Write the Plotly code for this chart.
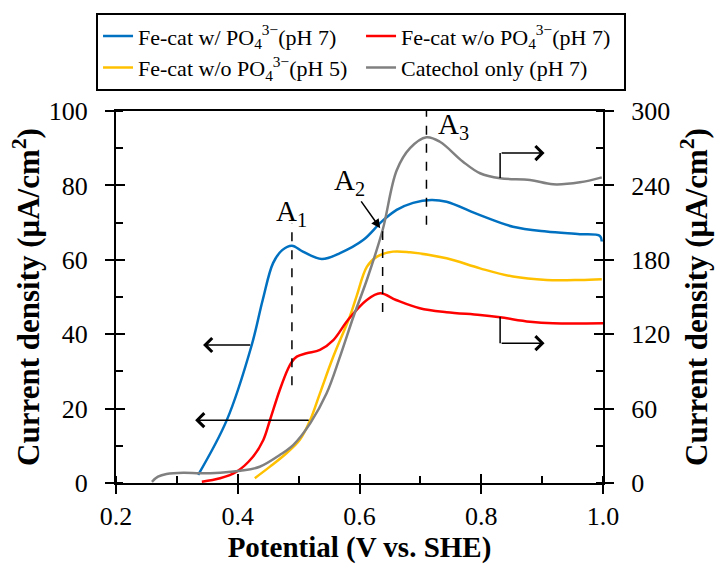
import plotly.graph_objects as go

# ---------------- data ----------------
blue_v = [0.335, 0.382, 0.423, 0.441, 0.458, 0.473, 0.489, 0.507, 0.538, 0.568, 0.606, 0.636,
          0.661, 0.688, 0.718, 0.743, 0.798, 0.852, 0.907, 0.962, 0.995, 0.998]
blue_i = [2.2, 16.9, 37.1, 49.2, 59.1, 62.6, 63.8, 62.2, 60.2, 61.8, 65.3, 70.2,
          73.4, 75.3, 76.1, 75.6, 72.0, 68.9, 67.6, 66.9, 66.4, 64.9]

red_v = [0.341, 0.371, 0.398, 0.425, 0.442, 0.453, 0.469, 0.483, 0.489, 0.497, 0.513, 0.535,
         0.557, 0.581, 0.612, 0.634, 0.660, 0.699, 0.743, 0.798, 0.831, 0.880, 0.918, 1.0]
red_i = [1.0, 3.8, 9.1, 21.2, 34.7, 50.8, 75.0, 92.5, 97.8, 101.9, 104.6, 107.3,
         115.3, 131.5, 147.6, 153.0, 147.6, 140.9, 137.7, 135.5, 133.6, 130.1, 128.8, 128.8]

yellow_v = [0.428, 0.453, 0.480, 0.502, 0.519, 0.535, 0.557, 0.584, 0.595, 0.612, 0.628, 0.655,
            0.683, 0.743, 0.798, 0.852, 0.907, 0.962, 0.998]
yellow_i = [1.3, 4.4, 8.0, 11.6, 16.9, 24.1, 34.0, 44.7, 50.1, 58.1, 60.8, 62.2,
            62.0, 60.4, 57.7, 55.5, 54.6, 54.6, 54.8]

gray_v = [0.259, 0.269, 0.283, 0.311, 0.338, 0.371, 0.404, 0.436, 0.469, 0.491, 0.519, 0.546,
          0.568, 0.590, 0.612, 0.638, 0.661, 0.683, 0.710, 0.732, 0.770, 0.798, 0.831, 0.880,
          0.918, 0.962, 0.998]
gray_i = [1.0, 5.1, 7.3, 8.3, 7.8, 8.3, 9.9, 13.1, 22.6, 30.6, 48.1, 72.3,
          101.9, 134.1, 163.7, 204.0, 252.0, 270.0, 278.8, 275.2, 259.1, 249.8, 245.7, 244.4,
          240.9, 242.5, 246.5]

series_names = ["Fe-cat w/ PO<sub>4</sub><sup>3−</sup>(pH 7)",
                "Fe-cat w/o PO<sub>4</sub><sup>3−</sup>(pH 7)",
                "Fe-cat w/o PO<sub>4</sub><sup>3−</sup>(pH 5)",
                "Catechol only (pH 7)"]
colors = ["#0070C0", "#FF0000", "#FFC000", "#808080"]

x_ticks = [0.2, 0.4, 0.6, 0.8, 1.0]
y_left_ticks = [0, 20, 40, 60, 80, 100]
y_right_ticks = [0, 60, 120, 180, 240, 300]

peak_labels = ["A<sub>1</sub>", "A<sub>2</sub>", "A<sub>3</sub>"]

FONT = "Liberation Serif, Times New Roman, serif"

fig = go.Figure()
fig.add_trace(go.Scatter(x=blue_v, y=blue_i, name=series_names[0], mode="lines",
                         line=dict(color=colors[0], width=2.5, shape="spline"), yaxis="y"))
fig.add_trace(go.Scatter(x=red_v, y=red_i, name=series_names[1], mode="lines",
                         line=dict(color=colors[1], width=2.5, shape="spline"), yaxis="y2"))
fig.add_trace(go.Scatter(x=yellow_v, y=yellow_i, name=series_names[2], mode="lines",
                         line=dict(color=colors[2], width=2.5, shape="spline"), yaxis="y"))
fig.add_trace(go.Scatter(x=gray_v, y=gray_i, name=series_names[3], mode="lines",
                         line=dict(color=colors[3], width=2.5, shape="spline"), yaxis="y2"))
# dummy traces for inside-tick overlay axes
fig.add_trace(go.Scatter(x=[None], y=[None], xaxis="x3", yaxis="y3", showlegend=False, hoverinfo="skip"))
fig.add_trace(go.Scatter(x=[None], y=[None], xaxis="x3", yaxis="y4", showlegend=False, hoverinfo="skip"))

tickfont = dict(family=FONT, size=26, color="black")
titlefont = dict(family=FONT, size=31, color="black", weight="bold")

fig.update_layout(
    width=722, height=568,
    margin=dict(l=116, r=119, t=111, b=85, autoexpand=False),
    paper_bgcolor="white", plot_bgcolor="white",
    font=dict(family=FONT, color="black"),
    xaxis=dict(range=[0.2, 1.0], tickvals=x_ticks, tickformat=".1f", ticks="outside", ticklen=9,
               tickwidth=1.5, tickcolor="black", showline=True, linewidth=2, linecolor="black",
               mirror=True, showgrid=False, zeroline=False, tickfont=tickfont, automargin=False,
               ticklabelstandoff=0,
               minor=dict(dtick=0.1, ticks="inside", ticklen=7, tickwidth=1.5, tickcolor="black"),
               title=dict(text="Potential (V vs. SHE)", font=dict(family=FONT, size=29, weight="bold"),
                          standoff=0)),
    yaxis=dict(range=[0, 100], tickvals=y_left_ticks, ticks="outside", ticklen=9, tickwidth=1.5,
               tickcolor="black", showline=True, linewidth=2, linecolor="black", showgrid=False,
               zeroline=False, tickfont=tickfont, automargin=False, ticklabelstandoff=12,
               minor=dict(dtick=10, ticks="inside", ticklen=7, tickwidth=1.5, tickcolor="black"),
               title=dict(text="Current density (μA/cm<sup>2</sup>)", font=titlefont, standoff=0)),
    yaxis2=dict(range=[0, 300], tickvals=y_right_ticks, overlaying="y", side="right", anchor="x",
                ticks="outside", ticklen=9, tickwidth=1.5, tickcolor="black", showline=True,
                linewidth=2, linecolor="black", showgrid=False, zeroline=False, tickfont=tickfont,
                automargin=False, ticklabelstandoff=12,
                minor=dict(dtick=30, ticks="inside", ticklen=7, tickwidth=1.5, tickcolor="black"),
                title=dict(text="Current density (μA/cm<sup>2</sup>)", font=titlefont, standoff=16)),
    xaxis3=dict(range=[0.2, 1.0], tickvals=x_ticks, overlaying="x", anchor="y3", ticks="inside",
                ticklen=9, tickwidth=1.5, tickcolor="black", showticklabels=False, showline=False,
                showgrid=False, zeroline=False, automargin=False),
    yaxis3=dict(range=[0, 100], tickvals=y_left_ticks, overlaying="y", side="left", anchor="x3",
                ticks="inside", ticklen=9, tickwidth=1.5, tickcolor="black", showticklabels=False,
                showline=False, showgrid=False, zeroline=False, automargin=False),
    yaxis4=dict(range=[0, 300], tickvals=y_right_ticks, overlaying="y", side="right", anchor="x3",
                ticks="inside", ticklen=9, tickwidth=1.5, tickcolor="black", showticklabels=False,
                showline=False, showgrid=False, zeroline=False, automargin=False),
    legend=dict(orientation="h", x=-0.041, y=1.263, xanchor="left", yanchor="top",
                entrywidth=218, entrywidthmode="pixels", bordercolor="black", borderwidth=2,
                bgcolor="white", font=dict(family=FONT, size=22, color="black"),
                tracegroupgap=0, itemwidth=30),
    showlegend=True,
)

# dashed guide lines at peaks (x, y0, y1 on left-axis scale)
guides = [(0.489, 26.3, 69.9), (0.638, 46.0, 67.7), (0.710, 69.4, 101.6)]
for gx, gy0, gy1 in guides:
    fig.add_shape(type="line", x0=gx, x1=gx, y0=gy0, y1=gy1, xref="x", yref="y",
                  line=dict(color="black", width=1.5, dash="dash"))

# peak labels
label_pos = [(0.489, 72.6), (0.584, 80.8), (0.754, 96.0)]
for (lx, ly), txt in zip(label_pos, peak_labels):
    fig.add_annotation(x=lx, y=ly, text=txt, showarrow=False, xref="x", yref="y",
                       font=dict(family=FONT, size=29, color="black"))

# A2 arrow
fig.add_annotation(x=0.634, y=68.5, ax=0.601, ay=76.1, xref="x", yref="y", axref="x", ayref="y",
                   text="", showarrow=True, arrowhead=2, arrowsize=1.2, arrowwidth=1.5, arrowcolor="black")

# axis arrows: left arrows
for (x0, x1, yy) in [(0.423, 0.343, 37.1), (0.519, 0.330, 16.9)]:
    fig.add_annotation(x=x1, y=yy, ax=x0, ay=yy, xref="x", yref="y", axref="x", ayref="y",
                       text="", showarrow=True, arrowhead=4, arrowsize=1.8, arrowwidth=1.5,
                       arrowcolor="black")

# elbow arrows to right axis
for (xs, yfrom, yto, xend) in [(0.831, 82.0, 88.7, 0.904), (0.831, 44.6, 37.6, 0.904)]:
    fig.add_shape(type="line", x0=xs, x1=xs, y0=yfrom, y1=yto, xref="x", yref="y",
                  line=dict(color="black", width=1.5))
    fig.add_annotation(x=xend, y=yto, ax=xs, ay=yto, xref="x", yref="y", axref="x", ayref="y",
                       text="", showarrow=True, arrowhead=4, arrowsize=1.8, arrowwidth=1.5,
                       arrowcolor="black")

fig.write_html("out.html", config={"displayModeBar": False},
               post_script="document.body.style.margin='0';document.body.style.padding='0';")
